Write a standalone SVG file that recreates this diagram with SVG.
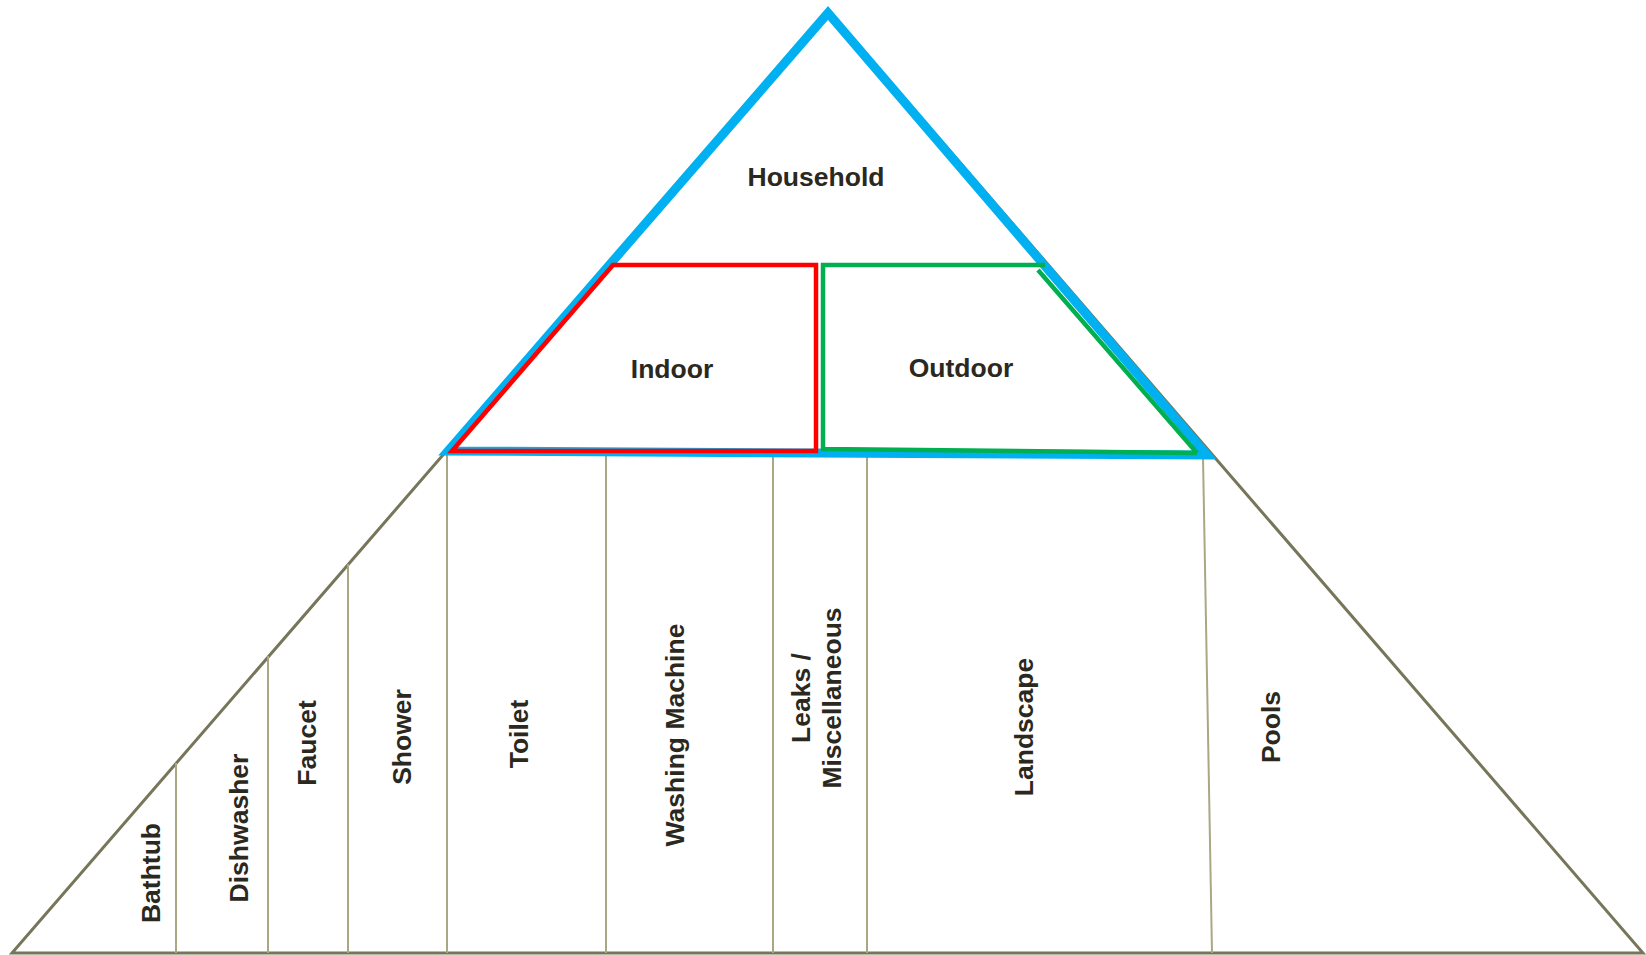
<svg xmlns="http://www.w3.org/2000/svg" width="1646" height="955" viewBox="0 0 1646 955">
<style>
.outer{fill:none;stroke:#77765a;stroke-width:3;stroke-linejoin:miter}
.div{fill:none;stroke:#aaa785;stroke-width:2}
.lbl{font-family:"Liberation Sans",Arial,sans-serif;font-weight:bold;font-size:26.5px;fill:#2b2820;text-anchor:middle}
</style>
<rect width="1646" height="955" fill="#ffffff"/>
<g id="pyramid">
<polygon class="outer" points="828,10 1643,953 12,953"/>
</g>
<g id="connectors">
<line class="div" x1="176" y1="763" x2="176" y2="953"/>
<line class="div" x1="268" y1="656" x2="268" y2="953"/>
<line class="div" x1="348" y1="564" x2="348" y2="953"/>
<line class="div" x1="447" y1="451" x2="447" y2="953"/>
<line class="div" x1="606" y1="455" x2="606" y2="953"/>
<line class="div" x1="773" y1="455" x2="773" y2="953"/>
<line class="div" x1="867" y1="455" x2="867" y2="953"/>
<line class="div" x1="1203" y1="457" x2="1212" y2="953"/>
</g>
<g id="household">
<polygon points="828,13 1207,455 448,451" fill="none" stroke="#00b0f0" stroke-width="9" stroke-linejoin="miter"/>
<text class="lbl" x="816" y="186">Household</text>
</g>
<g id="indoor">
<polygon points="452,451 613,265 816,265 816,451" fill="none" stroke="#ff0000" stroke-width="4.5" stroke-linejoin="miter"/>
<text class="lbl" x="672" y="378">Indoor</text>
</g>
<g id="outdoor">
<path d="M1045,265 L823,265 L823,449 L1197,453 M1038,270 L1197,453" fill="none" stroke="#00b050" stroke-width="4.5" stroke-linejoin="miter"/>
<text class="lbl" x="961" y="377">Outdoor</text>
</g>
<g id="bathtub"><text class="lbl" transform="translate(160,873) rotate(-90)">Bathtub</text></g>
<g id="dishwasher"><text class="lbl" transform="translate(248,828) rotate(-90)">Dishwasher</text></g>
<g id="faucet"><text class="lbl" transform="translate(316,743) rotate(-90)">Faucet</text></g>
<g id="shower"><text class="lbl" transform="translate(411,737) rotate(-90)">Shower</text></g>
<g id="toilet"><text class="lbl" transform="translate(528,734) rotate(-90)">Toilet</text></g>
<g id="washing-machine"><text class="lbl" transform="translate(684,735) rotate(-90)">Washing Machine</text></g>
<g id="leaks"><text class="lbl" transform="translate(810,698) rotate(-90)"><tspan x="0" y="0">Leaks /</tspan><tspan x="0" y="31">Miscellaneous</tspan></text></g>
<g id="landscape"><text class="lbl" transform="translate(1033,727) rotate(-90)">Landscape</text></g>
<g id="pools"><text class="lbl" transform="translate(1280,727) rotate(-90)">Pools</text></g>
</svg>
